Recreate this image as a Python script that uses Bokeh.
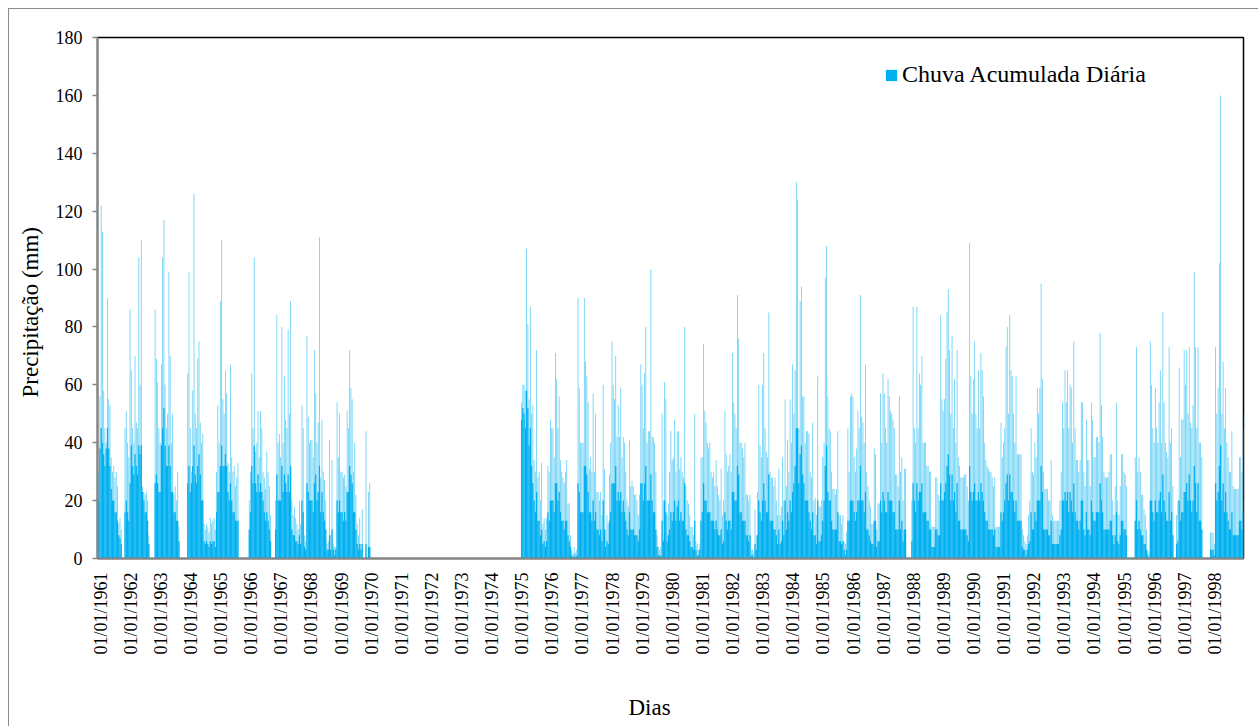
import math
import datetime as dt

from bokeh.plotting import figure
from bokeh.models import (ColumnDataSource, FixedTicker, DatetimeTickFormatter,
                          Legend, LegendItem, Range1d, Title)
from bokeh.embed import file_html
from bokeh.resources import INLINE

# ---------------------------------------------------------------------------
# Data: maximum daily rainfall (mm) and typical daily rainfall (mm) in each
# half-month of every year (24 slots per year).
# ---------------------------------------------------------------------------
peak_1960 = [0, 0, 0, 0, 0, 0, 0, 0, 0, 0, 0, 0, 0, 0, 0, 0, 0, 0, 0, 0, 0, 0, 30, 56]
base_1960 = [0, 0, 0, 0, 0, 0, 0, 0, 0, 0, 0, 0, 0, 0, 0, 0, 0, 0, 0, 0, 0, 0, 20, 38]
peak_1961 = [122, 113, 58, 45, 40, 90, 55, 53, 35, 30, 32, 28, 30, 25, 12, 14, 10, 0, 0, 45, 51, 40, 35, 86]
base_1961 = [45, 40, 36, 32, 38, 45, 38, 32, 24, 20, 20, 16, 16, 13, 8, 7, 5, 0, 0, 16, 20, 16, 13, 26]
peak_1962 = [65, 45, 40, 70, 47, 45, 104, 60, 110, 25, 23, 22, 23, 20, 8, 0, 0, 0, 0, 86, 69, 61, 45, 40]
base_1962 = [39, 32, 29, 36, 32, 29, 39, 36, 39, 23, 20, 16, 16, 13, 5, 0, 0, 0, 0, 26, 29, 26, 23, 23]
peak_1963 = [67, 104, 117, 60, 45, 50, 99, 70, 40, 50, 22, 25, 20, 30, 11, 0, 0, 0, 0, 0, 0, 64, 99, 45]
base_1963 = [39, 45, 52, 39, 32, 32, 39, 32, 23, 23, 16, 16, 13, 13, 6, 0, 0, 0, 0, 0, 0, 26, 32, 23]
peak_1964 = [30, 58, 126, 50, 45, 69, 75, 47, 40, 43, 12, 10, 12, 11, 9, 14, 12, 13, 14, 10, 30, 53, 40, 89]
base_1964 = [26, 32, 39, 29, 26, 32, 36, 29, 20, 20, 6, 5, 6, 5, 4, 6, 5, 6, 6, 4, 16, 23, 23, 32]
peak_1965 = [110, 55, 50, 65, 57, 33, 30, 67, 35, 30, 32, 25, 28, 33, 0, 0, 0, 0, 0, 0, 0, 0, 20, 30]
base_1965 = [39, 32, 32, 36, 32, 23, 20, 26, 20, 16, 16, 13, 13, 13, 0, 0, 0, 0, 0, 0, 0, 0, 10, 16]
peak_1966 = [64, 45, 104, 37, 40, 51, 35, 51, 45, 30, 28, 24, 37, 30, 25, 15, 0, 0, 0, 20, 84, 40, 43, 35]
base_1966 = [32, 26, 39, 26, 23, 29, 23, 26, 23, 20, 16, 13, 16, 13, 10, 6, 0, 0, 0, 10, 29, 20, 20, 20]
peak_1967 = [80, 40, 63, 48, 45, 79, 50, 89, 20, 15, 18, 14, 12, 10, 20, 12, 53, 45, 8, 6, 77, 49, 40, 41]
base_1967 = [32, 23, 29, 26, 23, 29, 23, 32, 10, 8, 8, 6, 6, 5, 8, 5, 20, 16, 4, 3, 26, 23, 20, 20]
peak_1968 = [41, 35, 72, 57, 40, 47, 111, 28, 48, 30, 27, 20, 5, 6, 41, 8, 34, 5, 4, 4, 54, 35, 50, 30]
base_1968 = [20, 16, 26, 29, 20, 23, 32, 16, 23, 16, 13, 10, 3, 3, 8, 3, 10, 3, 1, 3, 20, 16, 20, 16]
peak_1969 = [30, 28, 29, 25, 51, 45, 72, 59, 55, 30, 40, 22, 12, 8, 14, 5, 17, 0, 0, 44, 0, 23, 26, 0]
base_1969 = [16, 13, 16, 13, 23, 23, 32, 29, 26, 16, 16, 10, 5, 3, 5, 3, 5, 0, 0, 5, 0, 4, 4, 0]
peak_1970 = [0, 0, 0, 0, 0, 0, 0, 0, 0, 0, 0, 0, 0, 0, 0, 0, 0, 0, 0, 0, 0, 0, 0, 0]
base_1970 = [0, 0, 0, 0, 0, 0, 0, 0, 0, 0, 0, 0, 0, 0, 0, 0, 0, 0, 0, 0, 0, 0, 0, 0]
peak_1974 = [0, 0, 0, 0, 0, 0, 0, 0, 0, 0, 0, 0, 0, 0, 0, 0, 0, 0, 0, 0, 0, 0, 0, 54]
base_1974 = [0, 0, 0, 0, 0, 0, 0, 0, 0, 0, 0, 0, 0, 0, 0, 0, 0, 0, 0, 0, 0, 0, 0, 48]
peak_1975 = [60, 60, 58, 107, 81, 55, 87, 50, 53, 34, 30, 72, 28, 30, 20, 33, 12, 14, 10, 14, 32, 30, 48, 45]
base_1975 = [52, 50, 45, 58, 52, 39, 45, 32, 26, 20, 16, 23, 13, 13, 8, 10, 5, 6, 4, 6, 16, 13, 20, 20]
peak_1976 = [45, 35, 71, 62, 45, 56, 34, 30, 28, 26, 30, 34, 19, 19, 8, 3, 2, 4, 2, 3, 90, 59, 40, 40]
base_1976 = [20, 16, 26, 26, 20, 23, 16, 13, 13, 10, 13, 13, 8, 6, 4, 1, 0, 1, 0, 1, 26, 23, 16, 16]
peak_1977 = [40, 90, 68, 63, 54, 31, 35, 30, 57, 30, 50, 23, 23, 20, 23, 15, 60, 31, 10, 15, 12, 29, 40, 75]
base_1977 = [16, 32, 32, 29, 23, 16, 16, 13, 20, 13, 16, 10, 10, 8, 10, 6, 20, 10, 4, 6, 5, 13, 16, 26]
peak_1978 = [60, 55, 70, 42, 53, 42, 59, 35, 42, 40, 30, 20, 18, 41, 25, 27, 25, 22, 22, 20, 15, 22, 67, 60]
base_1978 = [26, 26, 32, 20, 23, 20, 23, 16, 20, 16, 13, 10, 8, 16, 10, 10, 10, 8, 8, 8, 6, 10, 26, 26]
peak_1979 = [45, 64, 80, 40, 44, 44, 100, 42, 42, 40, 30, 8, 4, 3, 4, 50, 20, 61, 55, 15, 19, 30, 44, 34]
base_1979 = [20, 26, 32, 20, 20, 20, 29, 20, 16, 16, 10, 4, 1, 1, 1, 13, 6, 20, 16, 6, 8, 10, 16, 13]
peak_1980 = [35, 48, 30, 44, 44, 31, 35, 30, 28, 80, 25, 20, 19, 15, 11, 11, 8, 50, 6, 5, 3, 5, 35, 35]
base_1980 = [16, 20, 13, 18, 20, 13, 16, 13, 13, 26, 10, 8, 8, 6, 4, 4, 3, 13, 3, 1, 1, 3, 13, 16]
peak_1981 = [74, 51, 47, 40, 38, 40, 30, 28, 30, 25, 34, 25, 22, 20, 31, 15, 20, 51, 36, 30, 32, 36, 30, 71]
base_1981 = [26, 20, 20, 16, 16, 16, 13, 13, 13, 10, 13, 10, 8, 8, 10, 5, 6, 16, 13, 10, 13, 13, 10, 23]
peak_1982 = [54, 50, 45, 91, 76, 40, 40, 38, 35, 40, 22, 22, 20, 22, 3, 3, 2, 17, 8, 23, 60, 39, 35, 60]
base_1982 = [23, 20, 20, 32, 29, 16, 16, 13, 13, 13, 8, 8, 6, 8, 1, 1, 0, 5, 3, 8, 20, 16, 13, 20]
peak_1983 = [71, 45, 37, 35, 85, 30, 28, 28, 25, 28, 20, 15, 31, 15, 18, 35, 20, 55, 25, 41, 30, 55, 40, 67]
base_1983 = [26, 20, 16, 16, 29, 13, 13, 13, 10, 10, 8, 5, 10, 5, 6, 13, 8, 20, 10, 16, 13, 20, 16, 23]
peak_1984 = [50, 65, 130, 124, 45, 89, 94, 56, 56, 40, 44, 44, 43, 30, 28, 47, 20, 21, 15, 63, 18, 18, 20, 35]
base_1984 = [26, 32, 45, 45, 26, 36, 39, 29, 26, 20, 20, 20, 16, 13, 10, 16, 8, 8, 5, 20, 6, 6, 8, 13]
peak_1985 = [40, 97, 108, 56, 45, 44, 30, 24, 24, 22, 24, 44, 15, 15, 12, 15, 6, 5, 9, 45, 30, 56, 57, 56]
base_1985 = [20, 32, 39, 23, 20, 20, 13, 10, 10, 10, 10, 16, 6, 6, 5, 6, 3, 1, 3, 13, 13, 20, 20, 20]
peak_1986 = [35, 30, 38, 51, 45, 91, 49, 47, 40, 67, 30, 25, 20, 18, 12, 12, 38, 36, 10, 19, 19, 57, 40, 64]
base_1986 = [16, 13, 16, 20, 20, 32, 20, 20, 16, 23, 10, 10, 8, 6, 5, 5, 13, 13, 4, 6, 6, 20, 16, 23]
peak_1987 = [57, 45, 40, 62, 56, 51, 50, 48, 45, 29, 29, 25, 56, 30, 35, 20, 31, 31, 0, 0, 0, 0, 20, 87]
base_1987 = [20, 16, 16, 23, 20, 20, 20, 16, 16, 10, 10, 10, 20, 10, 13, 6, 10, 10, 0, 0, 0, 0, 6, 26]
peak_1988 = [45, 40, 87, 45, 64, 60, 70, 40, 40, 40, 32, 32, 30, 30, 11, 11, 11, 28, 28, 22, 20, 84, 55, 51]
base_1988 = [20, 16, 26, 20, 23, 23, 26, 16, 16, 16, 13, 13, 10, 10, 4, 4, 4, 10, 10, 8, 8, 26, 20, 20]
peak_1989 = [55, 69, 85, 93, 72, 50, 77, 45, 62, 40, 72, 35, 32, 28, 28, 28, 29, 29, 25, 20, 109, 63, 50, 62]
base_1989 = [23, 26, 32, 36, 29, 20, 29, 20, 23, 16, 26, 13, 13, 10, 10, 10, 10, 10, 8, 6, 32, 23, 20, 23]
peak_1990 = [75, 50, 45, 65, 45, 71, 65, 56, 40, 34, 32, 31, 30, 30, 28, 25, 28, 11, 11, 11, 11, 47, 35, 40]
base_1990 = [26, 20, 20, 23, 20, 26, 23, 20, 16, 13, 13, 10, 10, 10, 10, 8, 10, 4, 4, 4, 4, 16, 13, 16]
peak_1991 = [45, 73, 80, 50, 84, 65, 63, 50, 40, 63, 36, 36, 36, 36, 10, 8, 6, 5, 8, 15, 20, 45, 30, 29]
base_1991 = [20, 26, 29, 20, 29, 23, 23, 20, 16, 20, 13, 13, 13, 13, 4, 3, 3, 1, 3, 5, 6, 16, 10, 10]
peak_1992 = [40, 35, 59, 50, 59, 95, 62, 30, 24, 24, 24, 20, 20, 34, 15, 13, 13, 13, 13, 13, 20, 30, 54, 45]
base_1992 = [16, 13, 20, 20, 20, 32, 23, 10, 10, 10, 10, 8, 8, 13, 5, 5, 5, 5, 5, 5, 8, 10, 20, 20]
peak_1993 = [65, 54, 65, 45, 60, 59, 40, 75, 45, 34, 34, 30, 34, 54, 54, 30, 25, 48, 34, 34, 25, 54, 48, 35]
base_1993 = [23, 20, 23, 16, 23, 20, 16, 26, 16, 13, 13, 10, 13, 20, 20, 10, 8, 16, 10, 10, 8, 20, 16, 13]
peak_1994 = [35, 42, 42, 40, 78, 53, 42, 30, 28, 28, 28, 30, 36, 36, 20, 15, 25, 54, 20, 15, 25, 36, 36, 30]
base_1994 = [13, 16, 16, 16, 26, 20, 16, 10, 10, 10, 10, 10, 13, 13, 8, 5, 8, 16, 6, 5, 8, 13, 13, 10]
peak_1995 = [29, 25, 0, 0, 0, 0, 0, 0, 35, 73, 30, 35, 30, 22, 22, 17, 15, 10, 3, 2, 75, 60, 45, 40]
base_1995 = [10, 8, 0, 0, 0, 0, 0, 0, 13, 20, 10, 13, 10, 8, 8, 5, 5, 3, 1, 0, 20, 20, 16, 13]
peak_1996 = [59, 45, 40, 54, 65, 40, 85, 54, 40, 37, 35, 73, 40, 45, 25, 0, 0, 15, 20, 66, 35, 48, 48, 72]
base_1996 = [20, 16, 16, 20, 23, 16, 29, 20, 16, 13, 13, 23, 13, 16, 8, 0, 0, 5, 6, 20, 13, 16, 16, 23]
peak_1997 = [60, 72, 50, 73, 47, 45, 53, 99, 73, 45, 73, 40, 40, 35, 0, 0, 0, 0, 0, 0, 9, 9, 9, 5]
base_1997 = [23, 26, 20, 29, 20, 16, 20, 32, 26, 16, 26, 13, 13, 10, 0, 0, 0, 0, 0, 0, 3, 3, 3, 1]
peak_1998 = [73, 50, 59, 102, 160, 50, 68, 45, 59, 40, 35, 30, 30, 44, 25, 24, 24, 24, 24, 35, 35, 30, 50, 45]
base_1998 = [26, 20, 23, 32, 39, 20, 26, 16, 23, 16, 13, 10, 10, 16, 8, 8, 8, 8, 8, 13, 13, 10, 16, 20]

peaks = {1960: peak_1960, 1961: peak_1961, 1962: peak_1962, 1963: peak_1963, 1964: peak_1964,
         1965: peak_1965, 1966: peak_1966, 1967: peak_1967, 1968: peak_1968, 1969: peak_1969,
         1970: peak_1970, 1971: peak_1970, 1972: peak_1970, 1973: peak_1970, 1974: peak_1974,
         1975: peak_1975, 1976: peak_1976, 1977: peak_1977, 1978: peak_1978, 1979: peak_1979,
         1980: peak_1980, 1981: peak_1981, 1982: peak_1982, 1983: peak_1983, 1984: peak_1984,
         1985: peak_1985, 1986: peak_1986, 1987: peak_1987, 1988: peak_1988, 1989: peak_1989,
         1990: peak_1990, 1991: peak_1991, 1992: peak_1992, 1993: peak_1993, 1994: peak_1994,
         1995: peak_1995, 1996: peak_1996, 1997: peak_1997, 1998: peak_1998}
bases = {1960: base_1960, 1961: base_1961, 1962: base_1962, 1963: base_1963, 1964: base_1964,
         1965: base_1965, 1966: base_1966, 1967: base_1967, 1968: base_1968, 1969: base_1969,
         1970: base_1970, 1971: base_1970, 1972: base_1970, 1973: base_1970, 1974: base_1974,
         1975: base_1975, 1976: base_1976, 1977: base_1977, 1978: base_1978, 1979: base_1979,
         1980: base_1980, 1981: base_1981, 1982: base_1982, 1983: base_1983, 1984: base_1984,
         1985: base_1985, 1986: base_1986, 1987: base_1987, 1988: base_1988, 1989: base_1989,
         1990: base_1990, 1991: base_1991, 1992: base_1992, 1993: base_1993, 1994: base_1994,
         1995: base_1995, 1996: base_1996, 1997: base_1997, 1998: base_1998}

tick_years = list(range(1961, 1999))
series_name = "Chuva Acumulada Diária"
x_title = "Dias"
y_title = "Precipitação (mm)"

# ---------------------------------------------------------------------------
EPOCH = dt.datetime(1970, 1, 1)
DAY_MS = 86_400_000.0
SLOT_DAYS = 365.25 / 24


def ms(d):
    return (d - EPOCH).total_seconds() * 1000.0


xs, tops, lows = [], [], []
for year in sorted(peaks):
    for s, (pk, bs) in enumerate(zip(peaks[year], bases[year])):
        if pk <= 0:
            continue
        d = dt.datetime(year, 1, 1) + dt.timedelta(days=(s + 0.5) * SLOT_DAYS)
        xs.append(ms(d))
        tops.append(pk)
        lows.append(min(bs, pk))

src = ColumnDataSource(dict(x=xs, peak=tops, base=lows))

BLUE = "#00B0F0"
SERIF = "Liberation Serif"
BORDER = "#8c8c8c"

x_start = ms(dt.datetime(1960, 11, 25))
x_end = ms(dt.datetime(1998, 12, 13))

p = figure(width=1258, height=726, x_axis_type="datetime",
           x_range=Range1d(x_start, x_end), y_range=Range1d(0, 180),
           output_backend="svg", toolbar_location=None,
           min_border_left=97, min_border_right=15,
           min_border_top=37, min_border_bottom=168,
           background_fill_color="white", border_fill_color=None)
# thin grey chart-area border at x=8 / y=8, drawn behind the transparent canvas border
p.styles = {
    "background-color": "white",
    "background-image": f"linear-gradient({BORDER}, {BORDER}), linear-gradient({BORDER}, {BORDER})",
    "background-size": "1px 718px, 1250px 1px",
    "background-position": "8px 8px, 8px 8px",
    "background-repeat": "no-repeat",
}

# thin spikes: daily maxima
p.vbar(x="x", top="peak", bottom=0, width=10 * DAY_MS, source=src,
       fill_color=BLUE, fill_alpha=0.6, line_color=None)
# dense mass of ordinary rainy days
base_r = p.vbar(x="x", top="base", bottom=0, width=SLOT_DAYS * DAY_MS, source=src,
                fill_color=BLUE, fill_alpha=1.0, line_color=None)

# grid / outline
p.xgrid.visible = False
p.ygrid.visible = False
p.outline_line_color = "black"
p.outline_line_width = 1.5

# y axis
p.yaxis.ticker = FixedTicker(ticks=list(range(0, 181, 20)))
p.yaxis.axis_line_color = "#868686"
p.yaxis.axis_line_width = 2
p.yaxis.major_tick_line_color = "#868686"
p.yaxis.major_tick_line_width = 1.5
p.yaxis.major_tick_in = 0
p.yaxis.major_tick_out = 5
p.yaxis.minor_tick_line_color = None
p.yaxis.major_label_standoff = 10
p.yaxis.major_label_text_font = SERIF
p.yaxis.major_label_text_font_size = "18px"
p.yaxis.major_label_text_color = "#000000"

# x axis
p.xaxis.ticker = FixedTicker(ticks=[ms(dt.datetime(y, 1, 1)) for y in tick_years])
fmt = "%d/%m/%Y"
p.xaxis.formatter = DatetimeTickFormatter(milliseconds=fmt, seconds=fmt, minsec=fmt, minutes=fmt,
                                          hourmin=fmt, hours=fmt, days=fmt, months=fmt, years=fmt)
p.xaxis.major_label_orientation = math.pi / 2
p.xaxis.axis_line_color = "#868686"
p.xaxis.axis_line_width = 2
p.xaxis.major_tick_line_color = None
p.xaxis.minor_tick_line_color = None
p.xaxis.major_tick_in = 0
p.xaxis.major_tick_out = 0
p.xaxis.major_label_standoff = 14
p.xaxis.major_label_text_font = SERIF
p.xaxis.major_label_text_font_size = "18px"
p.xaxis.major_label_text_color = "#000000"

# axis titles (offset like the original, which is not exactly centred)
p.add_layout(Title(text="\n" + x_title, align="left", offset=531, standoff=2,
                   text_font=SERIF, text_font_size="23px", text_font_style="normal",
                   text_line_height=1.36, text_color="#000000"), "below")
p.add_layout(Title(text=y_title, align="left", offset=161, standoff=20,
                   text_font=SERIF, text_font_size="23px", text_font_style="normal",
                   text_color="#000000"), "left")

# legend
legend = Legend(items=[LegendItem(label=series_name, renderers=[base_r])],
                location=(787, 470), orientation="vertical",
                border_line_color=None, background_fill_alpha=0,
                padding=0, margin=0, spacing=0,
                glyph_width=14, glyph_height=14, label_standoff=4,
                label_text_font=SERIF, label_text_font_size="24px",
                label_text_color="#000000")
p.add_layout(legend, "center")

open("out.html", "w").write(file_html(p, INLINE))
